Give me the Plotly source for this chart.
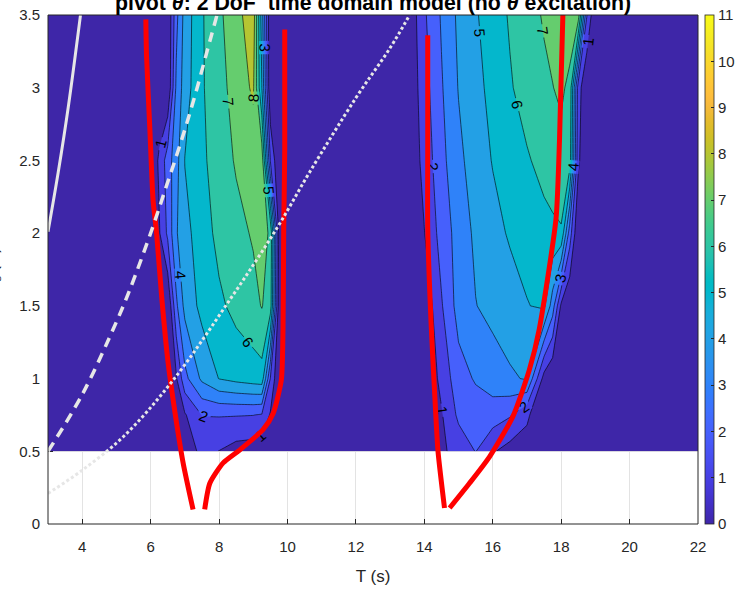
import plotly.graph_objects as go

# ---- grid: significant wave height rows and wave period columns ----
HS_ROWS = [0.5, 0.75, 1.0, 1.5, 2.0, 2.5, 3.0, 3.5]
T_EDGES = [3.0, 22.0]

# first resonance lobe
T_LEFT = [6.0, 6.25, 6.5, 6.75, 7.0, 7.5, 8.0, 8.5, 9.0, 9.25, 9.5, 9.75, 10.0]
Z_LEFT = [
    [0, 0, 0, 0, 0.3, 1.3, 0.98, 0.6, 0.5, 0.3, 0, 0, 0],
    [0, 0, 0, 0, 0.9, 2.03, 2.06, 2.05, 2.02, 1.92, 0.9, 0, 0],
    [0, 0, 0, 0.9, 2.7, 4.2, 5.03, 5.3, 5.5, 5.6, 1.97, 0, 0],
    [0, 0, 0, 2.8, 4.3, 5.3, 5.8, 6.3, 6.7, 7.05, 6.5, 0.5, 0],
    [0, 0.9, 2.2, 3.9, 4.7, 5.5, 6.3, 6.7, 7.1, 7.5, 6.8, 0.8, 0],
    [0, 1.2, 2.5, 3.6, 5.03, 5.8, 6.5, 7.1, 7.5, 7.6, 1.97, 0, 0],
    [0, 0, 0, 3.2, 4.5, 5.9, 6.6, 7.45, 8.15, 5.03, 0, 0, 0],
    [0, 0, 0, 2.7, 4.4, 5.9, 6.8, 7.65, 8.6, 4.5, 0, 0, 0],
]

# second resonance lobe
T_RIGHT = [13.5, 14.0, 14.5, 15.0, 15.5, 16.0, 16.5, 17.0, 17.5, 17.75, 18.0, 18.25, 18.5, 18.75, 19.0]
Z_RIGHT = [
    [0, 0, 0.8, 1.4, 2.03, 1.1, 0.6, 0.5, 0, 0, 0, 0, 0, 0, 0],
    [0, 0, 0.9, 2.2, 2.5, 2.5, 2.1, 1.2, 0, 0, 0, 0, 0, 0, 0],
    [0, 0, 1.3, 2.6, 3.1, 3.5, 3.85, 4.1, 0.6, 0, 0, 0, 0, 0, 0],
    [0, 0.2, 1.9, 3.4, 3.97, 4.3, 4.6, 4.95, 5.2, 3.5, 0.8, 0, 0, 0, 0],
    [0, 0.97, 2.4, 3.4, 4.2, 4.7, 5.1, 5.4, 5.7, 5.8, 5.9, 2.5, 0, 0, 0],
    [0, 1.35, 2.7, 3.75, 4.5, 5.05, 5.5, 5.9, 6.3, 6.5, 6.7, 6.5, 1.2, 0, 0],
    [0, 1.6, 2.9, 4.05, 4.7, 5.3, 5.9, 6.4, 6.8, 6.98, 7.15, 6.8, 1.5, 0, 0],
    [0, 1.85, 3.1, 4.2, 4.9, 5.5, 6.1, 6.6, 7.1, 7.25, 7.4, 7.45, 7.5, 2.05, 0],
]

# resonance limit curves (red)
RED_A1_T = [5.86, 5.88, 5.98, 6.07, 6.17, 6.32, 6.51, 6.71, 6.95, 7.24]
RED_A1_H = [3.47, 3.22, 2.70, 2.23, 2.01, 1.57, 1.11, 0.77, 0.42, 0.10]
RED_A2_T = [7.58, 7.73, 8.12, 8.61, 9.29, 9.58, 9.82, 9.87, 9.89, 9.92, 9.92]
RED_A2_H = [0.10, 0.28, 0.42, 0.51, 0.65, 0.76, 0.99, 1.34, 2.03, 2.58, 3.40]
RED_B1_T = [14.10, 14.10, 14.10, 14.20, 14.30, 14.40, 14.59]
RED_B1_H = [3.36, 2.60, 2.03, 1.37, 0.91, 0.50, 0.11]
RED_B2_T = [14.74, 15.32, 15.90, 16.59, 17.07, 17.36, 17.85, 17.95, 18.05]
RED_B2_H = [0.11, 0.28, 0.46, 0.74, 1.06, 1.34, 2.10, 2.63, 3.50]

# wave steepness / breaking curves (light grey)
SOLID_T = [3.0, 3.3, 3.6, 3.95]
SOLID_H = [2.01, 2.42, 2.88, 3.50]
DASH_T = [3.0, 4.0, 5.0, 5.39, 6.03, 6.47, 6.85, 7.24, 7.73, 7.94]
DASH_H = [0.50, 0.89, 1.39, 1.61, 2.02, 2.33, 2.60, 2.90, 3.32, 3.50]
DOT_T = [3.0, 4.0, 5.2, 6.66, 8.31, 9.68, 10.65, 12.0, 12.99, 13.57]
DOT_H = [0.21, 0.37, 0.60, 0.99, 1.54, 2.03, 2.42, 2.93, 3.27, 3.50]

X_TICKS = [4, 6, 8, 10, 12, 14, 16, 18, 20, 22]
Y_TICKS = [0, 0.5, 1, 1.5, 2, 2.5, 3, 3.5]
Y_TICKTEXT = ["0", "0.5", "1", "1.5", "2", "2.5", "3", "3.5"]
CBAR_TICKS = list(range(0, 12))

PARULA = [
    [0.2422, 0.1504, 0.6603], [0.2504, 0.1650, 0.7076], [0.2578, 0.1818, 0.7511],
    [0.2647, 0.1978, 0.7952], [0.2706, 0.2147, 0.8364], [0.2751, 0.2342, 0.8710],
    [0.2783, 0.2559, 0.8991], [0.2803, 0.2782, 0.9221], [0.2813, 0.3006, 0.9414],
    [0.2810, 0.3228, 0.9579], [0.2795, 0.3447, 0.9717], [0.2760, 0.3667, 0.9829],
    [0.2699, 0.3892, 0.9906], [0.2602, 0.4123, 0.9952], [0.2440, 0.4358, 0.9988],
    [0.2206, 0.4603, 0.9973], [0.1963, 0.4847, 0.9892], [0.1834, 0.5074, 0.9798],
    [0.1786, 0.5289, 0.9682], [0.1764, 0.5499, 0.9520], [0.1687, 0.5703, 0.9359],
    [0.1540, 0.5902, 0.9218], [0.1460, 0.6091, 0.9079], [0.1380, 0.6276, 0.8973],
    [0.1248, 0.6459, 0.8883], [0.1113, 0.6635, 0.8763], [0.0952, 0.6798, 0.8598],
    [0.0689, 0.6948, 0.8394], [0.0297, 0.7082, 0.8163], [0.0036, 0.7203, 0.7917],
    [0.0067, 0.7312, 0.7660], [0.0433, 0.7411, 0.7394], [0.0964, 0.7500, 0.7120],
    [0.1408, 0.7584, 0.6842], [0.1717, 0.7670, 0.6554], [0.1938, 0.7758, 0.6251],
    [0.2161, 0.7843, 0.5923], [0.2470, 0.7918, 0.5567], [0.2906, 0.7973, 0.5188],
    [0.3406, 0.8008, 0.4789], [0.3909, 0.8029, 0.4354], [0.4456, 0.8024, 0.3909],
    [0.5044, 0.7993, 0.3480], [0.5616, 0.7942, 0.3045], [0.6174, 0.7876, 0.2612],
    [0.6720, 0.7793, 0.2227], [0.7242, 0.7698, 0.1910], [0.7738, 0.7598, 0.1646],
    [0.8203, 0.7498, 0.1535], [0.8634, 0.7406, 0.1596], [0.9035, 0.7330, 0.1774],
    [0.9393, 0.7288, 0.2100], [0.9728, 0.7298, 0.2394], [0.9956, 0.7434, 0.2371],
    [0.9970, 0.7659, 0.2199], [0.9952, 0.7893, 0.2028], [0.9892, 0.8136, 0.1885],
    [0.9786, 0.8386, 0.1766], [0.9676, 0.8639, 0.1643], [0.9610, 0.8890, 0.1537],
    [0.9597, 0.9135, 0.1423], [0.9628, 0.9373, 0.1265], [0.9691, 0.9606, 0.1064],
    [0.9769, 0.9839, 0.0805],
]
parula_scale = [
    [i / (len(PARULA) - 1), "rgb(%d,%d,%d)" % tuple(round(255 * c) for c in rgb)]
    for i, rgb in enumerate(PARULA)
]

# assemble the full grid (zero outside the two lobes)
T_ALL = [T_EDGES[0]] + T_LEFT + T_RIGHT + [T_EDGES[1]]
Z_ALL = [[0] + zl + zr + [0] for zl, zr in zip(Z_LEFT, Z_RIGHT)]

FONT = "Liberation Sans, Arial, Helvetica, sans-serif"
INK = "#262626"
GREY = "#E6E6E6"

fig = go.Figure()

fig.add_trace(go.Contour(
    x=T_ALL, y=HS_ROWS, z=Z_ALL,
    colorscale=parula_scale,
    contours=dict(start=1, end=11, size=1, coloring="fill",
                  showlabels=True,
                  labelfont=dict(size=15, color="black", family=FONT)),
    line=dict(color="black", width=0.6, smoothing=0),
    showscale=False, hoverinfo="skip",
))

red = dict(color="#FF0000", width=5, shape="spline", smoothing=0.6)
for tx, hy in [(RED_A1_T, RED_A1_H), (RED_A2_T, RED_A2_H),
               (RED_B1_T, RED_B1_H), (RED_B2_T, RED_B2_H)]:
    fig.add_trace(go.Scatter(x=tx, y=hy, mode="lines", line=red,
                             showlegend=False, hoverinfo="skip"))

fig.add_trace(go.Scatter(x=SOLID_T, y=SOLID_H, mode="lines",
                         line=dict(color=GREY, width=3, shape="spline"),
                         showlegend=False, hoverinfo="skip"))
fig.add_trace(go.Scatter(x=DASH_T, y=DASH_H, mode="lines",
                         line=dict(color=GREY, width=3.5, dash="10px,7px", shape="spline"),
                         showlegend=False, hoverinfo="skip"))
fig.add_trace(go.Scatter(x=DOT_T, y=DOT_H, mode="lines",
                         line=dict(color=GREY, width=3, dash="3px,2.5px", shape="spline"),
                         showlegend=False, hoverinfo="skip"))

# continuous colour bar
fig.add_trace(go.Scatter(
    x=[None], y=[None], mode="markers", showlegend=False, hoverinfo="skip",
    marker=dict(color=[0], cmin=0, cmax=11, colorscale=parula_scale, showscale=True,
                colorbar=dict(
                    x=1.0108, xanchor="left", y=0.5, yanchor="middle",
                    len=1, lenmode="fraction", thickness=9, thicknessmode="pixels",
                    outlinecolor=INK, outlinewidth=0.8, xpad=0, ypad=0,
                    tickvals=CBAR_TICKS, ticks="inside", ticklen=3, tickcolor=INK,
                    tickprefix="\u2002",
                    tickfont=dict(size=15, color=INK, family=FONT),
                )),
))

axis_common = dict(showline=False, ticks="inside", ticklen=5, tickcolor=INK,
                   tickfont=dict(size=15, color=INK, family=FONT),
                   showgrid=True, gridcolor="#E3E3E3", gridwidth=1,
                   zeroline=False, layer="below traces")

fig.update_layout(
    width=753, height=589,
    margin=dict(l=48, r=55, t=15, b=65, autoexpand=False),
    paper_bgcolor="white", plot_bgcolor="white",
    showlegend=False, hovermode=False,
    xaxis=dict(range=[3, 22], tickvals=X_TICKS, ticklabelstandoff=12,
               title=dict(text="T (s)", font=dict(size=17, color=INK, family=FONT), standoff=16),
               **axis_common),
    yaxis=dict(range=[0, 3.5], tickvals=Y_TICKS, ticktext=Y_TICKTEXT, ticklabelstandoff=7,
               **axis_common),
    shapes=[dict(type="rect", xref="paper", yref="paper", x0=0, x1=1, y0=0, y1=1,
                 line=dict(color=INK, width=1), layer="above")],
    annotations=[
        dict(text="<b>pivot <i>θ</i>: 2 DoF  time domain model (no <i>θ</i> excitation)</b>",
             xref="paper", yref="paper", x=0.5, y=1, xanchor="center", yanchor="bottom",
             yshift=-2, showarrow=False, font=dict(size=21.3, color="black", family=FONT)),
        dict(text="H<sub>s</sub> (m)", textangle=-90,
             xref="paper", yref="paper", x=(5 - 48) / 650, y=0.5,
             xanchor="right", yanchor="middle", showarrow=False,
             font=dict(size=16, color=INK, family=FONT)),
    ],
)

fig.write_html("out.html")
